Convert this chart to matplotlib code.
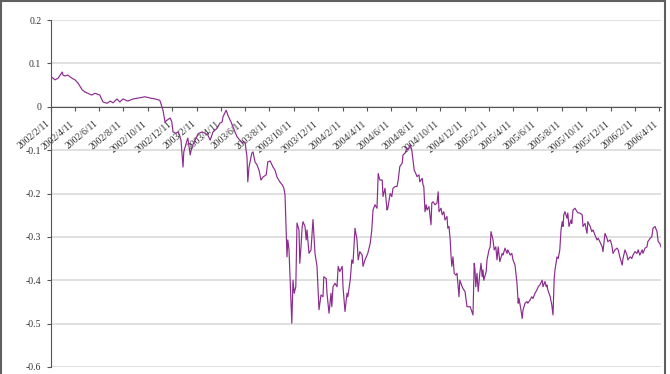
import pandas as pd
import matplotlib
matplotlib.use("Agg")
import matplotlib.pyplot as plt
import matplotlib.transforms as mtransforms
from matplotlib.patches import Rectangle

start = pd.Timestamp("2002-02-11")

# days after 2002/2/11
day_offset = [2, 10, 18, 28, 30, 35, 42, 52, 60, 68, 78, 85, 92, 102, 110, 122, 130, 140, 148, 155,
              165, 172, 180, 192, 205, 218, 235, 248, 260, 272,
              280, 285, 290, 298, 302, 305, 312, 318, 325, 330, 332, 338, 342, 348, 352, 360, 368, 378,
              385, 392, 398, 405, 415, 422, 428, 430, 438, 442, 450, 455, 460, 465, 472, 480, 485, 490,
              492, 495, 502, 505, 510, 515, 520, 525, 530, 538, 542, 548, 555, 560, 565, 572, 578, 582, 585,
              590, 592, 595, 600, 602, 605, 608, 612, 615, 620, 622, 625, 628, 630, 635, 638, 640, 645,
              650, 655, 658, 660, 665, 670, 675, 680, 682, 688, 690, 695, 700, 702, 705, 710, 715, 718,
              722, 728, 730, 735, 740, 742, 748, 752, 755, 760, 765, 768, 772, 778, 780, 785, 790, 792,
              798, 802, 805, 810, 815, 818, 822, 828, 830, 835, 840, 842, 848, 852, 855, 860, 865, 868,
              872, 878, 880, 885, 890, 892, 898, 902, 905, 908, 912, 915, 920, 922, 928, 930, 932, 935,
              938, 940, 945, 950, 952, 955, 960, 965, 968, 970, 975, 978, 982, 985, 990, 992, 995, 998,
              1000, 1002, 1005, 1008, 1012, 1015, 1020, 1022, 1028, 1030, 1035, 1040, 1048, 1055, 1058,
              1060, 1062, 1065, 1068, 1072, 1075, 1078, 1080, 1082, 1088, 1090, 1095, 1098, 1100, 1105,
              1108, 1112, 1115, 1118, 1122, 1128, 1130, 1135, 1140, 1142, 1148, 1152, 1155, 1160, 1165,
              1168, 1170, 1175, 1178, 1180, 1185, 1190, 1192, 1198, 1202, 1205, 1210, 1215, 1218, 1222,
              1228, 1230, 1235, 1238, 1240, 1242, 1248, 1252, 1255, 1258, 1260, 1265, 1268, 1272, 1275,
              1278, 1280, 1282, 1285, 1290, 1292, 1295, 1300, 1302, 1305, 1310, 1315, 1318, 1322, 1328,
              1330, 1335, 1340, 1342, 1348, 1352, 1355, 1360, 1365, 1368, 1372, 1378, 1380, 1385, 1390,
              1392, 1398, 1402, 1405, 1410, 1415, 1418, 1422, 1428, 1430, 1435, 1440, 1442, 1448, 1452,
              1455, 1460, 1465, 1468, 1472, 1478, 1480, 1485, 1490, 1492, 1498, 1502, 1505, 1510, 1515,
              1518, 1522, 1525]

spread = [0.068, 0.062, 0.066, 0.080, 0.073, 0.071, 0.073, 0.066, 0.062, 0.054, 0.039, 0.034, 0.031,
          0.027, 0.031, 0.027, 0.011, 0.008, 0.013, 0.009, 0.018, 0.011, 0.018, 0.013, 0.018, 0.020,
          0.023, 0.020, 0.018, 0.015,
          -0.008, -0.035, -0.031, -0.026, -0.035, -0.058, -0.061, -0.058, -0.077, -0.139, -0.104, -0.084,
          -0.072, -0.111, -0.093, -0.077, -0.062, -0.058, -0.061, -0.065, -0.077, -0.058, -0.050, -0.038,
          -0.035, -0.023, -0.008, -0.019, -0.035, -0.046, -0.058, -0.069, -0.077, -0.084, -0.081, -0.116,
          -0.173, -0.139, -0.107, -0.104, -0.127, -0.134, -0.146, -0.169, -0.162, -0.157, -0.127, -0.125,
          -0.139, -0.146, -0.162, -0.173, -0.180, -0.187, -0.203,
          -0.346, -0.307, -0.330, -0.453, -0.499, -0.400, -0.430, -0.415, -0.268, -0.284, -0.361, -0.322,
          -0.276, -0.265, -0.276, -0.307, -0.284, -0.338, -0.330, -0.260, -0.307, -0.338, -0.368, -0.468,
          -0.434, -0.438, -0.392, -0.396, -0.430, -0.476, -0.430, -0.461, -0.415, -0.407, -0.415, -0.368,
          -0.380, -0.368, -0.415, -0.472, -0.430, -0.438, -0.400, -0.353, -0.361, -0.280, -0.307, -0.353,
          -0.334, -0.342, -0.368, -0.353, -0.342, -0.338, -0.315, -0.284, -0.238, -0.226, -0.234, -0.154,
          -0.169, -0.169, -0.207, -0.188, -0.238, -0.234, -0.200, -0.207, -0.188, -0.184, -0.184, -0.169,
          -0.138, -0.130, -0.111, -0.107, -0.096, -0.100, -0.088, -0.100, -0.123, -0.146, -0.154, -0.161,
          -0.157, -0.173, -0.165, -0.180, -0.184, -0.242, -0.226, -0.238, -0.230, -0.272, -0.222, -0.219,
          -0.226, -0.222, -0.196, -0.242, -0.234, -0.249, -0.242, -0.261, -0.253, -0.280, -0.276, -0.307,
          -0.342, -0.368, -0.346, -0.384, -0.388, -0.384, -0.438, -0.400, -0.415, -0.419, -0.426, -0.461,
          -0.461, -0.480, -0.361, -0.376, -0.415, -0.384, -0.426, -0.384, -0.361, -0.392, -0.376, -0.400,
          -0.380, -0.353, -0.330, -0.323, -0.288, -0.307, -0.330, -0.323, -0.353, -0.323, -0.357, -0.338,
          -0.342, -0.326, -0.338, -0.330, -0.342, -0.338, -0.353, -0.365, -0.407, -0.453, -0.442, -0.469,
          -0.488, -0.469, -0.453, -0.449, -0.453, -0.445, -0.438, -0.442, -0.430, -0.422, -0.415, -0.411,
          -0.400, -0.415, -0.403, -0.415, -0.411, -0.422, -0.438, -0.457, -0.480, -0.396, -0.376, -0.346,
          -0.350, -0.330, -0.284, -0.265, -0.276, -0.249, -0.242, -0.257, -0.245, -0.276, -0.261, -0.269,
          -0.238, -0.234, -0.242, -0.245, -0.245, -0.249, -0.276, -0.269, -0.292, -0.265, -0.276, -0.288,
          -0.284, -0.296, -0.307, -0.303, -0.311, -0.323, -0.334, -0.292, -0.303, -0.311, -0.307, -0.319,
          -0.338, -0.330, -0.326, -0.330, -0.346, -0.365, -0.350, -0.330, -0.342, -0.353, -0.346, -0.350,
          -0.342, -0.334, -0.338, -0.330, -0.342, -0.330, -0.338, -0.326, -0.323, -0.311, -0.303, -0.300,
          -0.280, -0.276, -0.288, -0.311, -0.315, -0.323]

tick_dates = pd.date_range("2002-02-01", "2006-04-01", freq="2MS") + pd.Timedelta(days=10)
tick_labels = [f"{d.year}/{d.month}/{d.day}" for d in tick_dates]
y_ticks = [0.2, 0.1, 0, -0.1, -0.2, -0.3, -0.4, -0.5, -0.6]
y_labels = ["0.2", "0.1", "0", "-0.1", "-0.2", "-0.3", "-0.4", "-0.5", "-0.6"]

dates = start + pd.to_timedelta(day_offset, unit="D")

plt.rcParams['font.family'] = ['Liberation Serif', 'DejaVu Serif']

fig = plt.figure(figsize=(6.7, 3.74), dpi=100)
ax = fig.add_axes([51/670, 7/374, 610/670, 347/374])

ax.plot(dates, spread, color='#8B2B8E', lw=0.85, zorder=3)

ax.set_ylim(-0.6, 0.2)
ax.set_yticks(y_ticks)
ax.set_yticklabels(y_labels, fontsize=7, color='#333333')
ax.set_xlim(start, start + pd.Timedelta(days=1525))

ax.grid(axis='y', color='#dadada', lw=1.2, zorder=0)
for s in ['top', 'right']:
    ax.spines[s].set_visible(False)
ax.spines['bottom'].set_position(('data', 0))
ax.spines['bottom'].set_color('#555555')
ax.spines['left'].set_color('#555555')
ax.tick_params(axis='x', direction='out', length=3, color='#555555', pad=3,
               labelrotation=40, labelsize=7, labelcolor='#333333')
ax.tick_params(axis='y', direction='out', length=3, color='#555555', pad=4)

ax.set_xticks(tick_dates, labels=tick_labels)
shift = mtransforms.ScaledTranslation(-5/100, -4/100, fig.dpi_scale_trans)
for lab in ax.get_xticklabels():
    lab.set(ha='right', va='top', rotation_mode='anchor')
    lab.set_transform(lab.get_transform() + shift)

# frame around the picture
fig.patches.append(Rectangle((1/670, -0.05), 664/670, 1.05 - 1.5/374, transform=fig.transFigure,
                             fill=False, edgecolor='#606060', lw=1.5))

fig.savefig("out.png", dpi=100)
